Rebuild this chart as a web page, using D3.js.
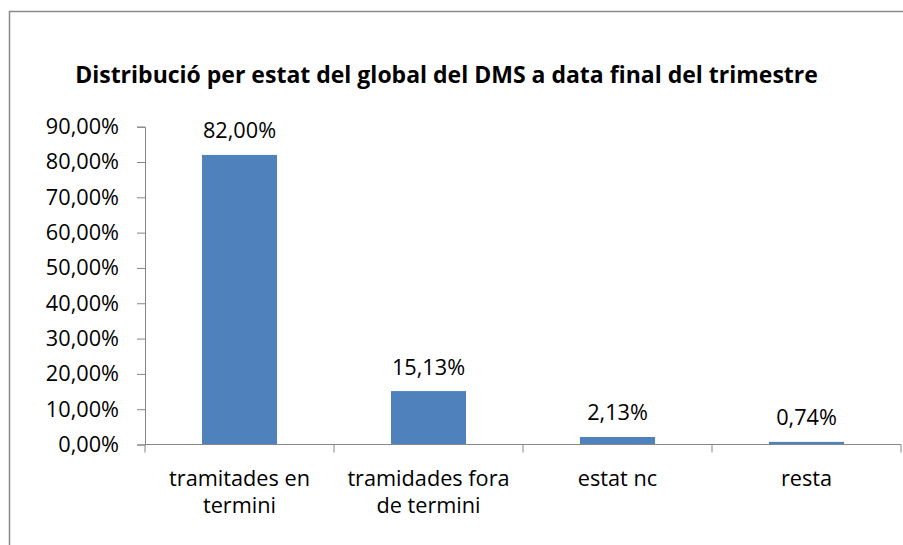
<!DOCTYPE html>
<html><head><meta charset="utf-8">
<script src="https://cdn.jsdelivr.net/npm/d3@7"></script>
<style>
html,body{margin:0;padding:0;background:#fff;}
svg{display:block;font-family:"Open Sans",Carlito,Calibri,sans-serif;}
</style></head>
<body>
<svg id="chart" width="903" height="545"></svg>
<script>
const categories = [["tramitades en","termini"],["tramidades fora","de termini"],["estat nc"],["resta"]];
const values = [82.00, 15.13, 2.13, 0.74];
const yTicks = [0,10,20,30,40,50,60,70,80,90];
const title = "Distribució per estat del global del DMS a data final del trimestre";

const svg = d3.select("#chart");
const fmt = v => v.toFixed(2).replace(".", ",") + "%";
const FS = 21.7;

// frame
svg.append("rect").attr("x",9.5).attr("y",11.5).attr("width",1000).attr("height",1000)
  .attr("fill","none").attr("stroke","#898989").attr("stroke-width",1.5);

const x0 = 145, x1 = 901, yZero = 444.5, yTop = 126.7;
const x = d3.scaleBand().domain(d3.range(categories.length)).range([x0,x1]).paddingInner(0).paddingOuter(0);
const y = d3.scaleLinear().domain([0,90]).range([yZero,yTop]);

svg.append("text").attr("x",446.5).attr("y",82.5).attr("text-anchor","middle")
  .attr("font-size",23).attr("font-weight","bold").attr("fill","#000").text(title);

// y axis
const yAxis = svg.append("g").attr("transform",`translate(${x0},0)`)
  .call(d3.axisLeft(y).tickValues(yTicks).tickSize(8).tickPadding(18).tickFormat(d=>fmt(d)));
yAxis.attr("font-family",null).attr("font-size",null);
yAxis.select(".domain").attr("stroke","#868686");
yAxis.selectAll(".tick line").attr("stroke","#868686");
yAxis.selectAll(".tick text").attr("font-size",FS).attr("fill","#000");

// bars
const bw = 75;
svg.append("g").selectAll("rect").data(values).join("rect")
  .attr("x",(d,i)=>x(i)+x.bandwidth()/2-bw/2)
  .attr("y",d=>y(d)).attr("width",bw).attr("height",d=>yZero-y(d))
  .attr("fill","#4F81BD");

// x axis
const xg = svg.append("g");
xg.append("line").attr("x1",x0).attr("x2",x1).attr("y1",yZero).attr("y2",yZero).attr("stroke","#868686");
const bounds = d3.range(categories.length+1).map(i=> i<categories.length ? x(i) : x1);
xg.selectAll("line.t").data(bounds).join("line").attr("class","t")
  .attr("x1",d=>d).attr("x2",d=>d).attr("y1",yZero).attr("y2",yZero+8).attr("stroke","#868686");

categories.forEach((lines,i)=>{
  const t = svg.append("text").attr("text-anchor","middle").attr("font-size",FS).attr("fill","#000");
  lines.forEach((l,j)=>t.append("tspan").attr("x",x(i)+x.bandwidth()/2).attr("y",486+j*27).text(l));
});

// data labels
svg.append("g").selectAll("text").data(values).join("text")
  .attr("x",(d,i)=>x(i)+x.bandwidth()/2).attr("y",d=>y(d)-16.5)
  .attr("text-anchor","middle").attr("font-size",FS).attr("fill","#000").text(d=>fmt(d));
</script>
</body></html>
